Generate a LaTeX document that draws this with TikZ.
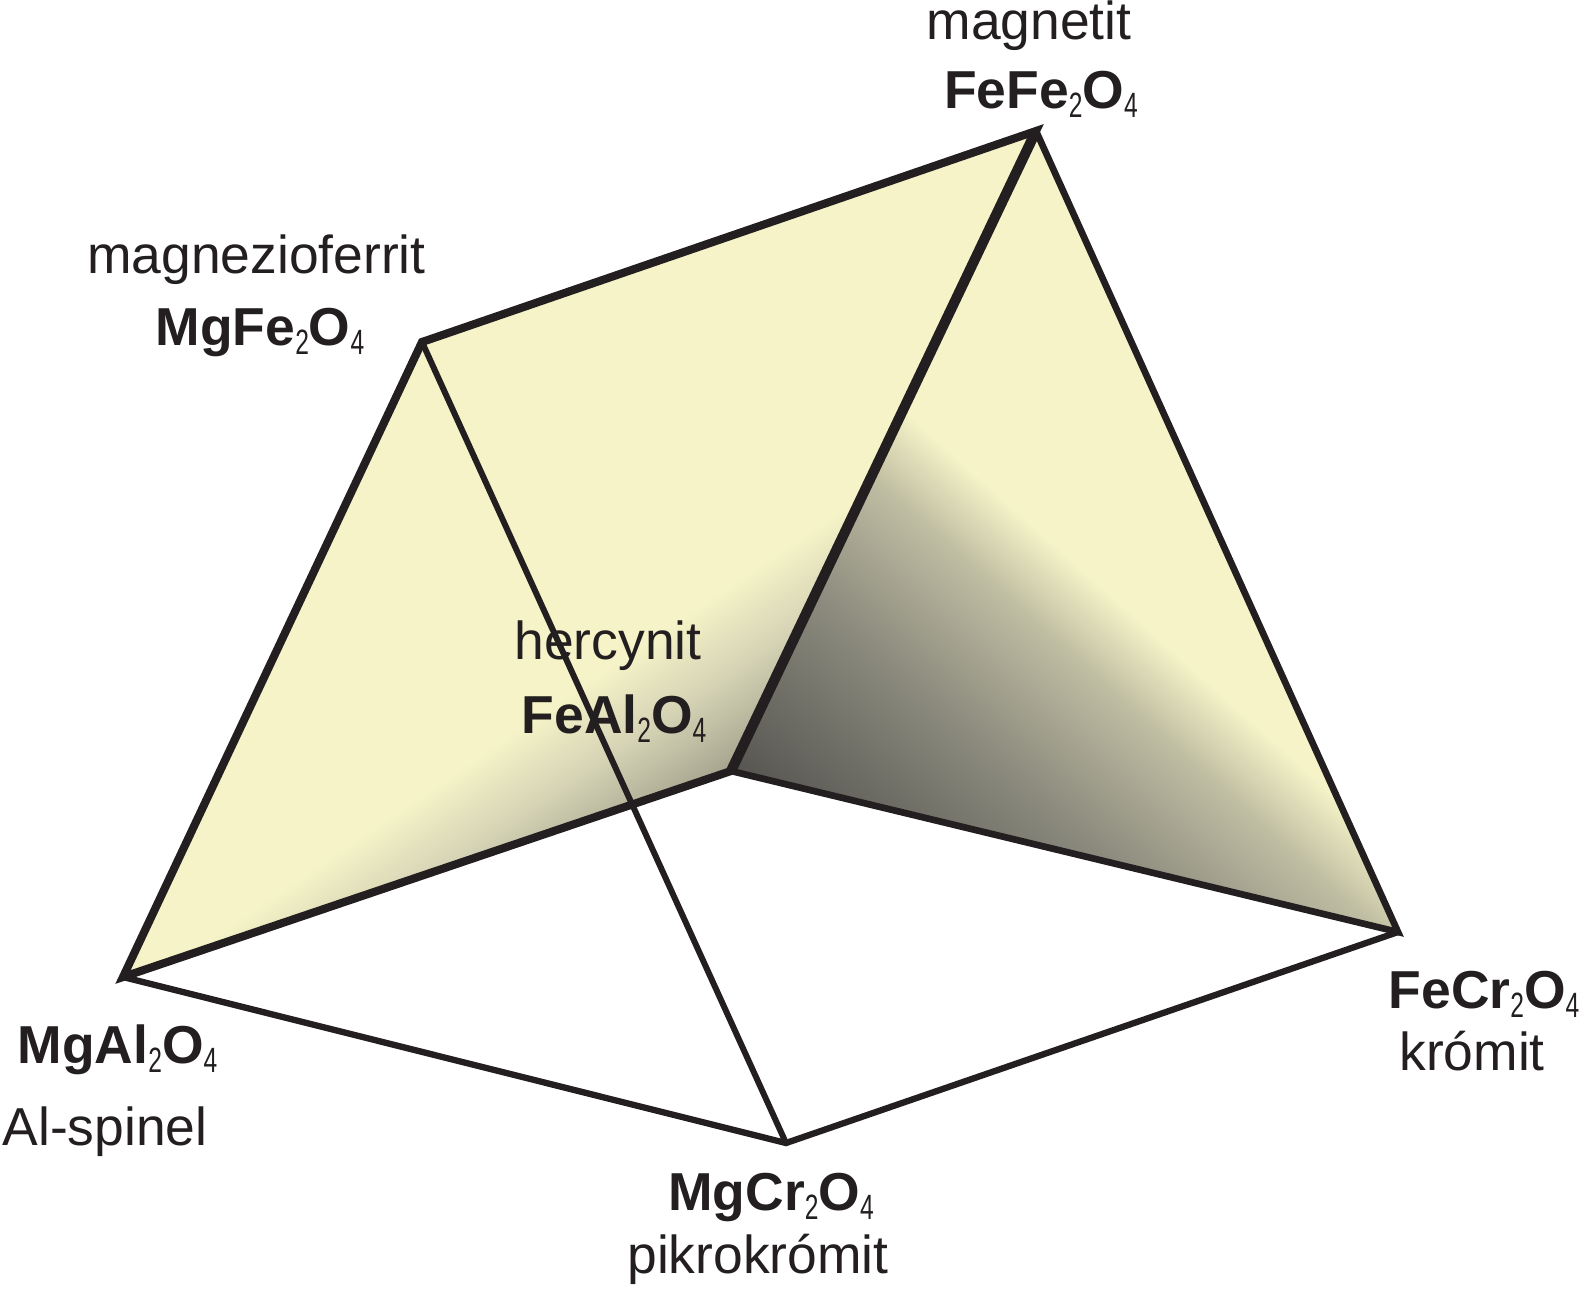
\documentclass[tikz,border=0pt]{standalone}
\usepackage{fontspec}
\setmainfont{Liberation Sans}
\usepackage{graphicx}
\usetikzlibrary{positioning}
\definecolor{edgec}{RGB}{35,31,32}
\definecolor{facec}{RGB}{245,243,199}
\definecolor{aldarkc}{RGB}{165,163,141}
\definecolor{almidc}{RGB}{212,210,180}
\definecolor{fedarkc}{RGB}{85,84,80}
\definecolor{femidc}{RGB}{140,139,126}
\definecolor{felightc}{RGB}{190,188,161}
\pgfdeclarehorizontalshading{alface}{100bp}{color(0bp)=(aldarkc); color(35.75bp)=(aldarkc); color(40bp)=(almidc); color(44bp)=(facec); color(100bp)=(facec)}
\pgfdeclarehorizontalshading{feface}{100bp}{color(0bp)=(fedarkc); color(25.5bp)=(fedarkc); color(37bp)=(femidc); color(44.5bp)=(felightc); color(49bp)=(facec); color(100bp)=(facec)}
\newcommand{\ix}[1]{\raisebox{-2.6pt}{\fontsize{10}{10}\selectfont\mdseries\scalebox{0.7}[1]{#1}}}

\begin{document}
\begin{tikzpicture}[scale=1.0,
  edge/.style={draw=edgec, line join=miter, line width=1.8pt},
  mineral/.style={anchor=base, inner sep=0pt, text=edgec, font=\fontsize{15.2}{18}\selectfont},
  formula/.style={mineral, font=\fontsize{15.2}{18}\selectfont\bfseries}]
\useasboundingbox (0cm,0cm) rectangle (15.83cm,12.92cm);

\coordinate (mgal) at (1.23cm,3.15cm);
\coordinate (mgfe) at (4.22cm,9.50cm);
\coordinate (fefe) at (10.36cm,11.61cm);
\coordinate (feal) at (7.31cm,5.21cm);
\coordinate (fecr) at (13.98cm,3.60cm);
\coordinate (mgcr) at (7.86cm,1.49cm);

% Al-Fe face
\begin{scope}
\clip (mgal) -- (mgfe) -- (fefe) -- (feal) -- cycle;
\shade[shading=alface, shading angle=124.2] (1.13cm,2.725cm) rectangle (10.43cm,12.025cm);
\end{scope}
% Fe face
\begin{scope}
\clip (feal) -- (fefe) -- (fecr) -- cycle;
\shade[shading=feface, shading angle=48.2] (6.545cm,3.505cm) rectangle (14.745cm,11.705cm);
\end{scope}

% edges
\draw[edge, line width=1.7pt] (mgfe) -- (mgcr);
\draw[edge] (mgal) -- (mgcr) -- (fecr);
\draw[edge, line width=1.9pt] (feal) -- (fecr) -- (fefe);
\draw[edge, line width=2.3pt] (feal) -- (mgal) -- (mgfe) -- (fefe) -- cycle;
\draw[edge, line width=2.9pt] (fefe) -- (feal);

\node[mineral] (magnetit) at (10.29cm,12.52cm) {magnetit};
\node[formula] (fefe2o4) at (10.41cm,11.84cm) {FeFe\ix{2}O\ix{4}};
\node[mineral] (magnferrit) at (2.565cm,10.19cm) {magnezioferrit};
\node[formula] (mgfe2o4) at (2.60cm,9.47cm) {MgFe\ix{2}O\ix{4}};
\node[mineral] (hercynit) at (6.08cm,6.33cm) {hercynit};
\node[formula] (feal2o4) at (6.14cm,5.59cm) {FeAl\ix{2}O\ix{4}};
\node[formula] (mgal2o4) at (1.175cm,2.29cm) {MgAl\ix{2}O\ix{4}};
\node[mineral] (alspinel) at (1.05cm,1.47cm) {Al-spinel};
\node[formula] (fecr2o4) at (14.84cm,2.84cm) {FeCr\ix{2}O\ix{4}};
\node[mineral] (kromit) at (14.72cm,2.22cm) {krómit};
\node[formula] (mgcr2o4) at (7.71cm,0.82cm) {MgCr\ix{2}O\ix{4}};
\node[mineral] (pikrokromit) at (7.58cm,0.19cm) {pikrokrómit};

\end{tikzpicture}
\end{document}
